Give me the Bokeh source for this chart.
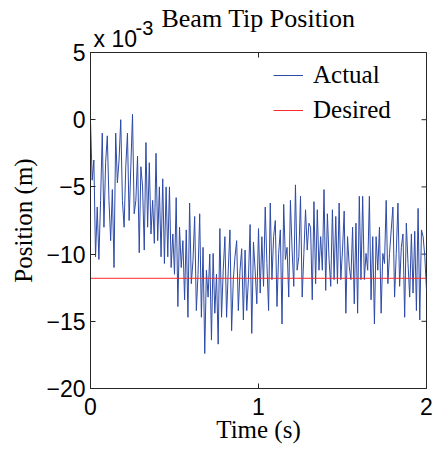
from bokeh.plotting import figure
from bokeh.models import Range1d, Legend, LegendItem, FixedTicker, Title
from bokeh.embed import file_html
from bokeh.resources import INLINE
import math

# ---- data (position in units of 1e-3 m) ----
dt = 0.01
actual_pos = [
    # t 0.00 - 0.33
    -0.1, -4.5, -3.0, -10.2, -6.5, -10.4, -6.0, -1.0, -8.0, -3.2,
    -1.2, -6.0, -9.0, -5.2, -11.0, -1.0, -4.7, -3.0, 0.0, -6.0,
    -8.0, -3.5, -1.0, -7.5, -3.5, 0.4, -7.0, -6.0, -2.7, -9.9,
    -3.5, -5.0, -9.7, -1.7,
    # t 0.34 - 0.66
    -8.0, -3.2, -8.5, -6.0, -9.2, -2.5, -9.0, -5.0, -10.2, -4.4,
    -10.7, -5.0, -10.2, -5.0, -11.0, -8.5, -11.5, -5.8, -13.9, -8.0,
    -11.0, -9.0, -13.4, -8.2, -14.7, -6.2, -12.2, -10.5, -7.2, -14.2,
    -11.5, -7.0, -14.7,
    # t 0.67 - 0.99
    -9.5, -17.4, -11.2, -13.2, -10.0, -16.4, -9.95, -14.4, -11.5, -16.7,
    -8.1, -14.7, -11.2, -8.7, -14.7, -11.2, -8.2, -15.7, -11.9, -10.2,
    -9.0, -14.2, -11.2, -9.6, -14.9, -9.7, -14.2, -11.9, -7.8, -15.9,
    -9.1, -11.2, -13.7,
    # t 1.00 - 1.32
    -8.1, -12.9, -8.7, -12.4, -6.5, -10.7, -14.2, -6.2, -11.9, -8.7,
    -7.5, -13.9, -9.95, -8.2, -15.2, -6.3, -10.4, -9.5, -13.2, -6.0,
    -9.7, -12.4, -4.85, -11.2, -10.2, -5.7, -13.2, -9.95, -6.7, -9.7,
    -7.7, -8.0, -13.4,
    # t 1.33 - 1.65
    -6.1, -12.2, -6.7, -11.2, -8.7, -11.2, -5.2, -12.7, -7.0, -10.4,
    -12.4, -6.7, -11.9, -7.2, -12.2, -6.2, -11.9, -9.7, -6.8, -14.4,
    -8.7, -10.9, -11.9, -8.0, -13.7, -7.7, -14.4, -5.7, -11.9, -5.7,
    -11.9, -9.95, -11.2,
    # t 1.66 - 2.00
    -5.7, -13.4, -8.7, -15.2, -8.7, -11.2, -8.0, -14.4, -9.95, -10.7,
    -6.0, -12.2, -9.95, -8.2, -6.5, -13.2, -9.95, -6.2, -12.4, -9.5,
    -8.5, -14.7, -7.7, -10.7, -13.2, -8.5, -12.9, -8.3, -14.2, -6.6,
    -14.9, -8.2, -8.7, -10.2, -12.7,
]
actual_time = [round(i * dt, 2) for i in range(len(actual_pos))]

desired_time = [0.0, 2.0]
desired_pos = [-11.8, -11.8]

x_ticks = [0, 1, 2]
y_ticks = [-20, -15, -10, -5, 0, 5]

title_text = "Beam Tip Position"
multiplier_text = "x 10"
exponent_text = "-3"
x_label = "Time (s)"
y_label = "Position (m)"

# ---- figure ----
AX = "#262626"
SANS = "Liberation Sans"
SERIF = "Liberation Serif"

p = figure(width=434, height=452,
           x_range=Range1d(x_ticks[0], x_ticks[-1]),
           y_range=Range1d(y_ticks[0], y_ticks[-1]),
           output_backend="svg", toolbar_location=None,
           min_border_left=90, min_border_right=8, min_border_top=52,
           min_border_bottom=64)
p.xgrid.visible = False
p.ygrid.visible = False
p.outline_line_color = AX
p.outline_line_alpha = 1
p.background_fill_color = "white"
p.border_fill_color = "white"

for ax, ticks in ((p.xaxis[0], x_ticks), (p.yaxis[0], y_ticks)):
    ax.ticker = FixedTicker(ticks=ticks)
    ax.major_tick_in = 5
    ax.major_tick_out = 0
    ax.minor_tick_in = 0
    ax.minor_tick_out = 0
    ax.axis_line_color = AX
    ax.major_tick_line_color = AX
    ax.major_label_text_font = SANS
    ax.major_label_text_font_size = "23px"
    ax.major_label_text_color = "black"
    ax.axis_label_text_font = SERIF
    ax.axis_label_text_font_size = "25px"
    ax.axis_label_text_font_style = "normal"
    ax.axis_label_text_color = "black"

p.xaxis.axis_label = x_label
p.yaxis.axis_label = y_label
p.xaxis.major_label_standoff = 9
p.xaxis.axis_label_standoff = -2
p.yaxis.major_label_standoff = 5
p.yaxis.axis_label_standoff = 6

# mirrored inward ticks on the right and top edges (outer halves are clipped)
p.scatter([x_ticks[-1]] * len(y_ticks), y_ticks, marker="dash", size=10,
          line_color=AX, line_width=1)
p.scatter(x_ticks, [y_ticks[-1]] * len(x_ticks), marker="dash", size=10,
          angle=math.pi / 2, line_color=AX, line_width=1)

r_act = p.line(actual_time, actual_pos, line_color="#2E4AA6", line_width=1)
r_des = p.line(desired_time, desired_pos, line_color="#FF2A2A", line_width=1)

legend = Legend(items=[LegendItem(label="Actual", renderers=[r_act]),
                       LegendItem(label="Desired", renderers=[r_des])],
                location="top_right", margin=4, padding=4, spacing=5,
                glyph_width=30, glyph_height=30, label_height=30,
                label_width=105, label_standoff=10,
                label_text_font=SERIF, label_text_font_size="25px",
                label_text_color="black",
                border_line_alpha=0, background_fill_alpha=0)
p.add_layout(legend)

# stacked header rows: "x 10" (closest to frame), exponent "-3", then title
p.title = None
p.add_layout(Title(text=multiplier_text, align="left", offset=3,
                   text_font=SANS, text_font_size="23px",
                   text_font_style="normal", text_color="black",
                   standoff=2), "above")
p.add_layout(Title(text=exponent_text, align="left", offset=45,
                   text_font=SANS, text_font_size="20px",
                   text_font_style="normal", text_color="black",
                   standoff=-24), "above")
p.add_layout(Title(text=title_text, align="center", offset=5,
                   text_font=SERIF, text_font_size="26px",
                   text_font_style="normal", text_color="black",
                   text_line_height=1.4, standoff=-20), "above")

open("out.html", "w").write(file_html(p, INLINE))
